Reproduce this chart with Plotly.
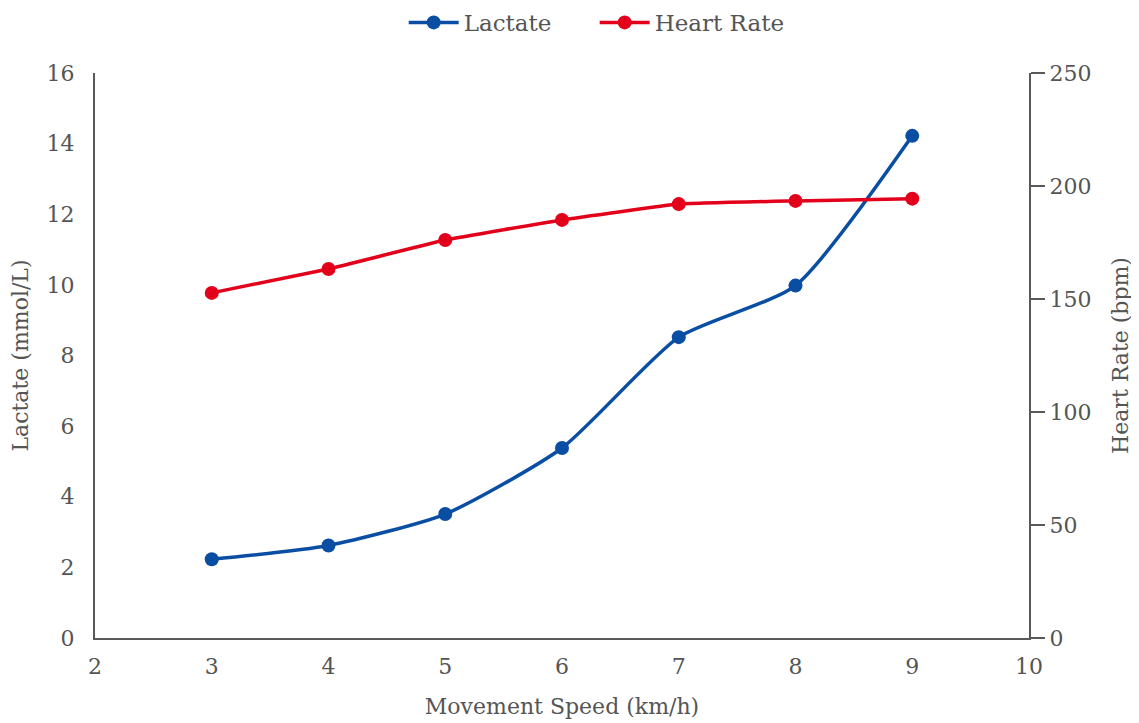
import plotly.graph_objects as go

speed = [3, 4, 5, 6, 7, 8, 9]
lactate = [2.23, 2.62, 3.51, 5.38, 8.52, 9.98, 14.22]
heart_rate = [152.7, 163.3, 176.1, 185.0, 192.0, 193.4, 194.4]

FONT = "DejaVu Serif"
GREY = "#555555"
AXIS = "#595959"

fig = go.Figure()
fig.add_trace(go.Scatter(
    x=speed, y=lactate, name="Lactate", mode="lines+markers",
    line=dict(color="#0a4ea3", width=3.5, shape="spline", smoothing=0.6),
    marker=dict(size=14, color="#0a4ea3"),
))
fig.add_trace(go.Scatter(
    x=speed, y=heart_rate, name="Heart Rate", mode="lines+markers", yaxis="y2",
    line=dict(color="#e3001b", width=3.5, shape="spline", smoothing=0.3),
    marker=dict(size=14, color="#e3001b"),
))

fig.update_layout(
    width=1139, height=723,
    margin=dict(l=87, r=118, t=65, b=93),
    paper_bgcolor="white", plot_bgcolor="white",
    font=dict(family=FONT, size=21, color=GREY),
    showlegend=True,
    legend=dict(orientation="h", x=0.535, xanchor="center", y=0.98, yanchor="middle",
                xref="paper", yref="container", font=dict(size=23, color=GREY),
                entrywidth=126, entrywidthmode="pixels", itemwidth=50),
    xaxis=dict(range=[2, 10], dtick=1, showgrid=False, zeroline=False,
               showline=True, linecolor=AXIS, linewidth=2, ticks="",
               ticklabelstandoff=8,
               title=dict(text="Movement Speed (km/h)", standoff=20,
                          font=dict(size=22)),
               tickfont=dict(size=22, color=GREY)),
    yaxis=dict(range=[0, 16], dtick=2, showgrid=False, zeroline=False,
               showline=True, linecolor=AXIS, linewidth=2, ticks="",
               ticklabelstandoff=14,
               title=dict(text="Lactate (mmol/L)", standoff=12,
                          font=dict(size=22)),
               tickfont=dict(size=22, color=GREY)),
    yaxis2=dict(range=[0, 250], dtick=50, overlaying="y", side="right",
                showgrid=False, zeroline=False, showline=True, linecolor=AXIS,
                linewidth=2, ticks="outside", ticklen=14, tickwidth=2, tickcolor=AXIS,
                title=dict(text="Heart Rate (bpm)", standoff=22,
                           font=dict(size=22)),
                tickfont=dict(size=22, color=GREY)),
)

fig.write_html("out.html")
